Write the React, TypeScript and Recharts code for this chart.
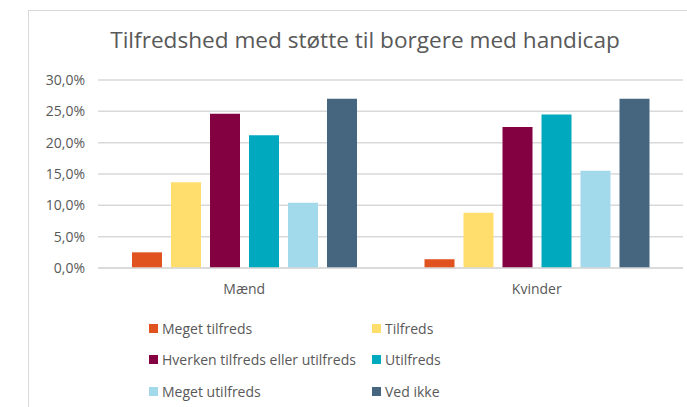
import { BarChart, Bar, XAxis, YAxis, CartesianGrid } from "recharts";

const categories = ["Mænd", "Kvinder"];
const seriesNames = [
  "Meget tilfreds",
  "Tilfreds",
  "Hverken tilfreds eller utilfreds",
  "Utilfreds",
  "Meget utilfreds",
  "Ved ikke",
];
const seriesColors = ["#E0531F", "#FFDE6D", "#830041", "#00A9BE", "#A2DAEC", "#46667F"];

const megetTilfreds = [2.5, 1.4];
const tilfreds = [13.7, 8.8];
const hverken = [24.6, 22.5];
const utilfreds = [21.2, 24.5];
const megetUtilfreds = [10.4, 15.5];
const vedIkke = [27.0, 27.0];

const yTicks = [0, 5, 10, 15, 20, 25, 30];

const seriesValues = [megetTilfreds, tilfreds, hverken, utilfreds, megetUtilfreds, vedIkke];
const keys = seriesNames.map((_, i) => "s" + i);

const data = categories.map((name, ci) => {
  const row: Record<string, string | number> = { name };
  seriesValues.forEach((vals, si) => { row[keys[si]] = vals[ci]; });
  return row;
});

const font = "'Open Sans', sans-serif";
const grey = "#595959";
const pct = (v: number) => v.toFixed(1).replace(".", ",") + "%";

// legend: two columns, three rows
const legendRows = [0, 1, 2];

export default function App() {
  return (
    <div style={{ position: "absolute", left: 0, top: 0, width: 687, height: 407, background: "#fff", overflow: "hidden", fontFamily: font }}>
      <div style={{ position: "absolute", left: 28, top: 10, width: 700, height: 420, borderTop: "1.5px solid #D9D9D9", borderLeft: "1.5px solid #D9D9D9" }} />
      <div style={{ position: "absolute", left: 365, top: 25, transform: "translateX(-50%)", whiteSpace: "nowrap", fontSize: 22.6, color: grey, lineHeight: "30px" }}>
        Tilfredshed med støtte til borgere med handicap
      </div>
      <div style={{ position: "absolute", left: 0, top: 0 }}>
        <BarChart width={687} height={407} data={data} margin={{ top: 80, right: 4, left: 28, bottom: 0 }} barCategoryGap={34} barGap={9}>
          <CartesianGrid vertical={false} stroke="#D9D9D9" strokeWidth={1.5} />
          <XAxis dataKey="name" height={139} tickLine={false} tickSize={0} tickMargin={16} axisLine={{ stroke: "#D9D9D9", strokeWidth: 1.5 }} tick={{ fill: grey, fontSize: 14, fontFamily: font }} />
          <YAxis width={70} domain={[0, 30]} ticks={yTicks} tickFormatter={pct} axisLine={false} tickLine={false} tickSize={0} tickMargin={13} tick={{ fill: grey, fontSize: 14, fontFamily: font }} />
          {keys.map((k, i) => (
            <Bar key={k} dataKey={k} name={seriesNames[i]} fill={seriesColors[i]} isAnimationActive={false} />
          ))}
        </BarChart>
      </div>
      {legendRows.map((r) =>
        [0, 1].map((c) => {
          const idx = r * 2 + c;
          return (
            <div key={idx} style={{ position: "absolute", left: c === 0 ? 149 : 372, top: 319 + r * 31.5, height: 18, display: "flex", alignItems: "center", fontSize: 14, color: grey, whiteSpace: "nowrap" }}>
              <span style={{ display: "inline-block", width: 9, height: 9, background: seriesColors[idx], marginRight: 4 }} />
              {seriesNames[idx]}
            </div>
          );
        })
      )}
    </div>
  );
}
